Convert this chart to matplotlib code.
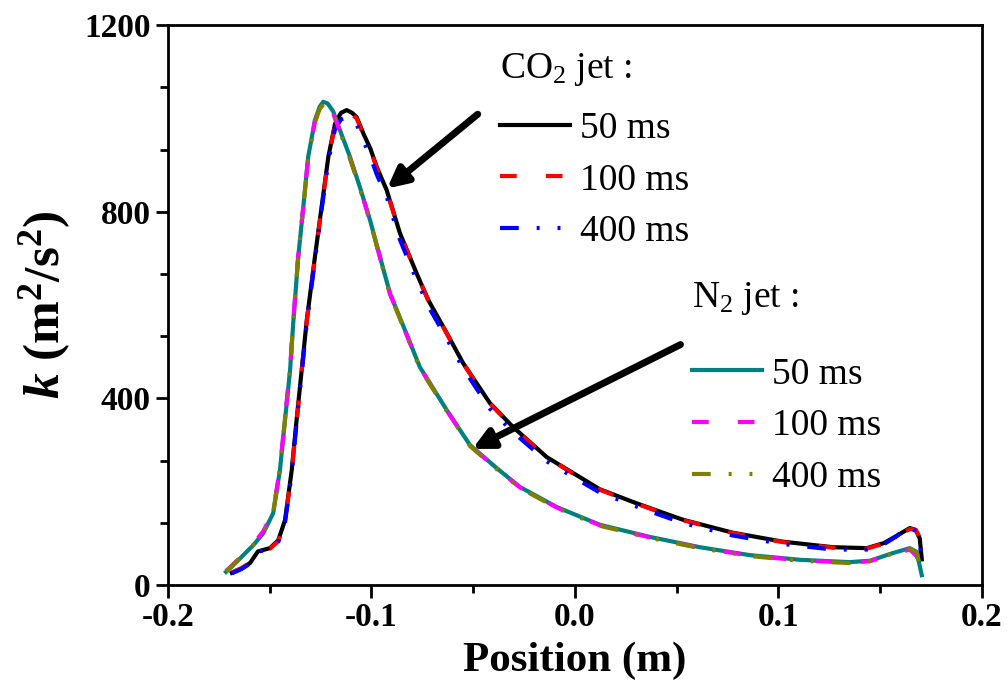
import matplotlib

matplotlib.use("Agg")

import matplotlib.pyplot as plt
from matplotlib.lines import Line2D
from matplotlib.ticker import MultipleLocator

# CO2 jet, positions (m) and turbulent kinetic energy k (m2/s2)
co2_x = [-0.1686, -0.1640, -0.1597, -0.1558, -0.1499, -0.1458, -0.1425, -0.1392, -0.1368,
         -0.1343, -0.1318, -0.1278, -0.1245, -0.1212, -0.1179, -0.1150, -0.1122, -0.1095,
         -0.1073, -0.1040, -0.1005, -0.0974, -0.0925, -0.0860, -0.0778, -0.0721, -0.0630,
         -0.0550, -0.0418, -0.0305, -0.0138, 0.0025, 0.0123, 0.0220, 0.0285, 0.0400,
         0.0530, 0.0777, 0.1020, 0.1268, 0.1435, 0.1520, 0.1580, 0.1646, 0.1675, 0.1695,
         0.1705]
co2_50ms = [26, 35, 47, 72, 79, 96, 139, 246, 354,
            461, 568, 703, 811, 918, 989, 1012, 1018, 1012,
            1003, 968, 935, 896, 846, 754, 668, 611, 540,
            476, 390, 339, 274, 231, 205, 189, 178, 160,
            140, 112, 93, 81, 79, 90, 105, 122, 118, 100,
            55]
co2_100ms = [27, 36, 48, 70, 78, 94, 136, 242, 350,
             458, 565, 700, 808, 915, 985, 1008, 1014, 1009,
             1000, 966, 933, 894, 845, 753, 667, 610, 539,
             475, 389, 338, 273, 230, 204, 188, 177, 159,
             139, 111, 92, 80, 78, 89, 104, 120, 118, 102,
             60]
co2_400ms = [25, 34, 46, 71, 78, 93, 134, 240, 348,
             455, 562, 697, 805, 910, 978, 998, 1003, 998,
             988, 952, 918, 880, 832, 740, 654, 598, 528,
             465, 378, 328, 265, 223, 198, 182, 171, 153,
             133, 106, 88, 76, 76, 88, 104, 128, 115, 95,
             50]

# N2 jet
n2_x = [-0.1715, -0.1695, -0.1650, -0.1605, -0.1581, -0.1532, -0.1483, -0.1450, -0.1425,
        -0.1400, -0.1384, -0.1360, -0.1335, -0.1311, -0.1278, -0.1255, -0.1237, -0.1215,
        -0.1188, -0.1155, -0.1106, -0.1057, -0.1007, -0.0958, -0.0909, -0.0862, -0.0762,
        -0.0630, -0.0516, -0.0383, -0.0270, -0.0089, 0.0123, 0.0369, 0.0614, 0.0860,
        0.1106, 0.1350, 0.1450, 0.1560, 0.1646, 0.1680, 0.1705]
n2_50ms = [28, 36, 55, 75, 85, 111, 154, 246, 354,
           461, 565, 703, 811, 918, 996, 1025, 1036, 1032,
           1015, 975, 918, 853, 782, 703, 625, 575, 467,
           375, 300, 250, 210, 167, 129, 103, 81, 64,
           54, 49, 52, 68, 79, 71, 21]
n2_100ms = [30, 38, 57, 78, 88, 115, 158, 250, 358,
            465, 568, 705, 812, 917, 994, 1022, 1032, 1028,
            1011, 972, 916, 851, 781, 702, 624, 574, 466,
            374, 299, 249, 209, 166, 128, 102, 80, 63,
            53, 48, 51, 66, 76, 62, 25]
n2_400ms = [29, 37, 56, 76, 86, 113, 156, 248, 356,
            463, 566, 704, 810, 915, 992, 1020, 1030, 1026,
            1010, 971, 915, 850, 780, 701, 623, 573, 465,
            373, 298, 248, 208, 165, 127, 101, 79, 62,
            52, 47, 51, 67, 78, 70, 20]

times_labels = ["50 ms", "100 ms", "400 ms"]

FONT = "Liberation Serif"
LW = 3.0
DASH = (4, 7)
DASH_DOT_DOT = (4.5, 4.3, 0.7, 4.3, 0.7, 4.3)

plt.rcParams["mathtext.fontset"] = "custom"
plt.rcParams["mathtext.rm"] = "Liberation Serif"
plt.rcParams["mathtext.bf"] = "Liberation Serif:bold"
plt.rcParams["mathtext.it"] = "Liberation Serif:bold:italic"

fig = plt.figure(figsize=(10.08, 7.0), dpi=100)
ax = fig.add_axes([0.1667, 0.1643, 0.8073, 0.7997])

co2_styles = [
    dict(color="black", linestyle="-"),
    dict(color="#ff0000", dashes=DASH),
    dict(color="#0000ff", dashes=DASH_DOT_DOT),
]
n2_styles = [
    dict(color="#008080", linestyle="-"),
    dict(color="#ff00ff", dashes=DASH),
    dict(color="#808000", dashes=DASH_DOT_DOT),
]

for k, style in zip([co2_50ms, co2_100ms, co2_400ms], co2_styles):
    ax.plot(co2_x, k, lw=LW, **style)
for k, style in zip([n2_50ms, n2_100ms, n2_400ms], n2_styles):
    ax.plot(n2_x, k, lw=LW, **style)

ax.set_xlim(-0.2, 0.2)
ax.set_ylim(0, 1200)
ax.xaxis.set_major_locator(MultipleLocator(0.1))
ax.xaxis.set_minor_locator(MultipleLocator(0.05))
ax.yaxis.set_major_locator(MultipleLocator(400))
ax.yaxis.set_minor_locator(MultipleLocator(400 / 3))
ax.tick_params(which="both", direction="out", width=2, top=False, right=False)
ax.tick_params(which="major", length=9)
ax.tick_params(which="minor", length=6)
for spine in ax.spines.values():
    spine.set_linewidth(2)

ax.set_xticklabels([f"{v:.1f}" for v in ax.get_xticks()])
for label in ax.get_xticklabels() + ax.get_yticklabels():
    label.set_fontfamily(FONT)
    label.set_fontweight("bold")
    label.set_fontsize(24)

ax.set_xlabel("Position (m)", fontfamily=FONT, fontweight="bold", fontsize=31, labelpad=6)
ax.set_ylabel(r"$k$ (m$^\mathbf{2}$/s$^\mathbf{2}$)", fontfamily=FONT,
              fontweight="bold", fontsize=37, labelpad=8)


def _legend(styles, anchor):
    handles = [Line2D([], [], lw=LW, **s) for s in styles]
    return ax.legend(handles, times_labels, loc="upper left",
                     bbox_to_anchor=anchor, frameon=False, handlelength=1.87,
                     handletextpad=0.27, labelspacing=0.46, borderaxespad=0,
                     prop={"family": FONT, "size": 27})


leg1 = _legend(co2_styles, (0.389, 0.873))
ax.add_artist(leg1)
_legend(n2_styles, (0.625, 0.434))

ax.text(0.408, 0.92, "CO$_2$ jet :", transform=ax.transAxes, ha="left", va="center",
        fontfamily=FONT, fontsize=27)
ax.text(0.644, 0.5125, "N$_2$ jet :", transform=ax.transAxes, ha="left", va="center",
        fontfamily=FONT, fontsize=27)

arrow = dict(arrowstyle="-|>,head_length=1.2,head_width=0.6", lw=5, color="black")
ax.annotate("", xy=(-0.0934, 846), xytext=(-0.0467, 1013), arrowprops=arrow)
ax.annotate("", xy=(-0.0516, 289), xytext=(0.0531, 518), arrowprops=arrow)

fig.savefig("out.png", dpi=100)
